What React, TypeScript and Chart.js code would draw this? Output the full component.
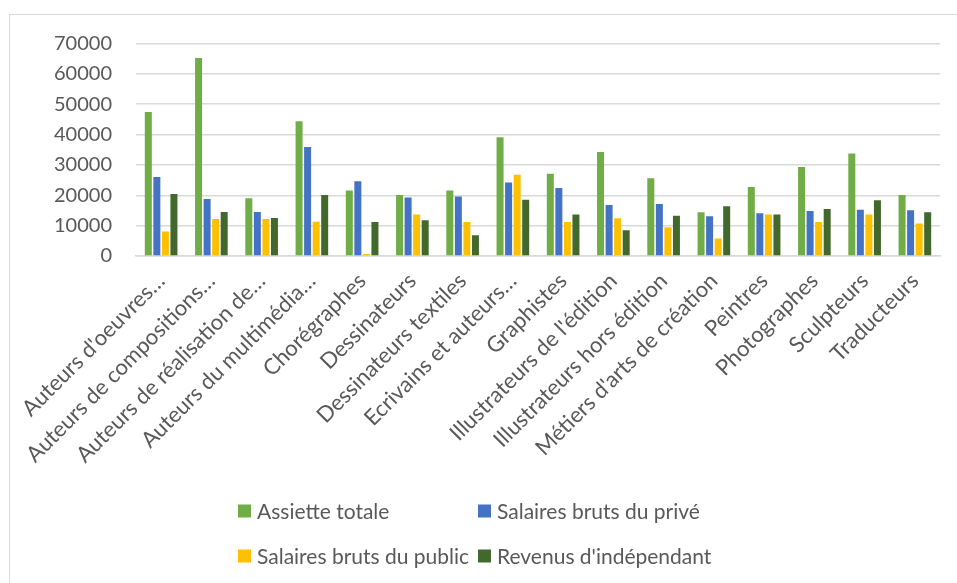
import React, { useEffect, useRef } from "react";
import { Chart, registerables } from "chart.js";

Chart.register(...registerables);

const categories = [
  "Auteurs d'oeuvres…",
  "Auteurs de compositions…",
  "Auteurs de réalisation de…",
  "Auteurs du multimédia…",
  "Chorégraphes",
  "Dessinateurs",
  "Dessinateurs textiles",
  "Ecrivains et auteurs…",
  "Graphistes",
  "Illustrateurs de l'édition",
  "Illustrateurs hors édition",
  "Métiers d'arts de création",
  "Peintres",
  "Photographes",
  "Sculpteurs",
  "Traducteurs",
];

const assietteTotale = [47400, 65200, 19000, 44400, 21600, 20100, 21600, 39100, 27100, 34300, 25600, 14400, 22700, 29300, 33800, 20100];
const salairesPrive = [26000, 18800, 14500, 35900, 24600, 19300, 19600, 24200, 22400, 16800, 17100, 13100, 14100, 14800, 15200, 15100];
const salairesPublic = [8100, 12200, 12200, 11300, 700, 13700, 11200, 26800, 11200, 12400, 9500, 5800, 13700, 11200, 13700, 10700];
const revenusIndependant = [20400, 14500, 12500, 20100, 11200, 11800, 6800, 18500, 13700, 8500, 13300, 16400, 13700, 15500, 18400, 14400];

const seriesNames = ["Assiette totale", "Salaires bruts du privé", "Salaires bruts du public", "Revenus d'indépendant"];
const seriesColors = ["#70AD47", "#4472C4", "#FFC000", "#43682B"];

const yMin = 0;
const yMax = 70000;
const yStep = 10000;

const TEXT = "#595959";
const GRID = "#D9D9D9";

const gridLegend = {
  id: "gridLegend",
  afterDraw(chart: any) {
    const ctx = chart.ctx;
    const ds = chart.data.datasets;
    const colX = [228, 468];
    const rowY = [496, 541];
    ctx.save();
    ctx.font = "21px Lato";
    ctx.textBaseline = "middle";
    ctx.textAlign = "left";
    ds.forEach((d: any, i: number) => {
      const x = colX[i % 2];
      const y = rowY[Math.floor(i / 2)];
      ctx.fillStyle = d.backgroundColor;
      ctx.fillRect(x, y - 6.5, 13, 13);
      ctx.fillStyle = TEXT;
      ctx.fillText(d.label, x + 19, y + 1);
    });
    ctx.restore();
  },
};

export default function App() {
  const ref = useRef<HTMLCanvasElement | null>(null);

  useEffect(() => {
    if (!ref.current) return;
    const series = [assietteTotale, salairesPrive, salairesPublic, revenusIndependant];
    const chart = new Chart(ref.current, {
      type: "bar",
      data: {
        labels: categories,
        datasets: series.map((s, i) => ({
          label: seriesNames[i],
          data: s,
          backgroundColor: seriesColors[i],
          borderWidth: 0,
          categoryPercentage: 0.68,
          barPercentage: 0.82,
        })),
      },
      options: {
        animation: false,
        responsive: false,
        maintainAspectRatio: false,
        layout: { padding: { left: 10, right: 17, top: 28.5, bottom: 0 } },
        plugins: {
          legend: { display: false },
          tooltip: { enabled: false },
        },
        scales: {
          x: {
            grid: { display: false },
            border: { display: true, color: GRID, width: 1.5 },
            ticks: {
              color: TEXT,
              font: { family: "Lato", size: 22 },
              minRotation: 45,
              maxRotation: 45,
              autoSkip: false,
              padding: 4,
            },
            afterFit(scale: any) {
              scale.height = 327;
            },
          },
          y: {
            min: yMin,
            max: yMax,
            grid: {
              color: GRID,
              lineWidth: 1.5,
              drawTicks: true,
              tickLength: 21,
              tickColor: "rgba(0,0,0,0)",
            },
            border: { display: false },
            ticks: {
              stepSize: yStep,
              color: TEXT,
              font: { family: "Lato", size: 20 },
              padding: 3,
              callback: (v: any) => String(v),
            },
            afterFit(scale: any) {
              scale.width = 116;
            },
          },
        },
      },
      plugins: [gridLegend],
    });
    return () => chart.destroy();
  }, []);

  return (
    <div
      style={{
        position: "absolute",
        left: 9,
        top: 14,
        width: 948,
        height: 569,
        boxSizing: "border-box",
        borderTop: "1px solid #D9D9D9",
        borderLeft: "1px solid #D9D9D9",
        background: "#fff",
        overflow: "hidden",
      }}
    >
      <canvas ref={ref} width={947} height={568} style={{ display: "block" }} />
    </div>
  );
}
